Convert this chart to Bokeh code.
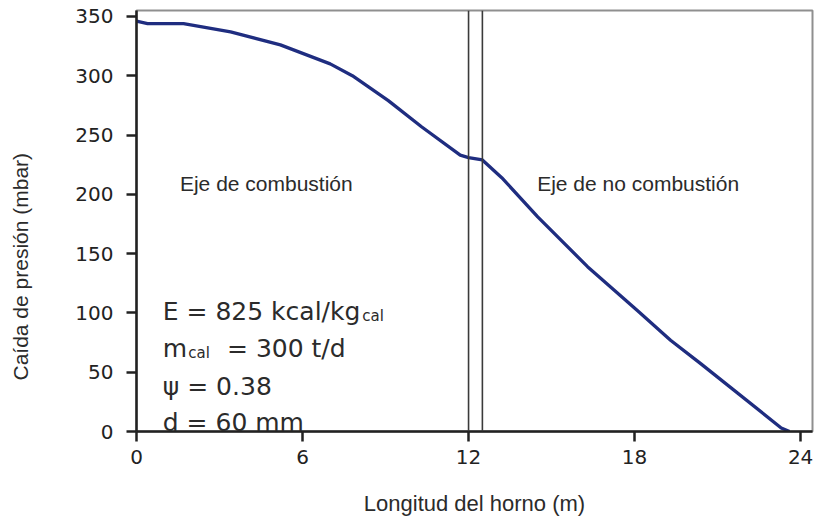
from bokeh.embed import file_html
from bokeh.models import FixedTicker, Label, Range1d, Span, Title
from bokeh.plotting import figure
from bokeh.resources import INLINE

# Pressure drop along the kiln shaft
kiln_length_m = [0.0, 0.4, 1.7, 3.4, 5.2, 7.0, 7.8, 9.1, 10.3, 11.7, 12.0, 12.5,
                 13.2, 14.5, 16.3, 18.1, 19.3, 20.4, 23.3, 23.6]
pressure_drop_mbar = [346, 344, 344, 337, 326, 310, 300, 279, 257, 233, 231, 229,
                      214, 181, 139, 102, 77, 57, 3, 0]

# Boundaries of the gap between the two shafts
shaft_boundaries = [12.0, 12.5]

x_ticks = [0, 6, 12, 18, 24]
y_ticks = [0, 50, 100, 150, 200, 250, 300, 350]

zone_labels = ["Eje de combustión", "Eje de no combustión"]

# Operating parameters
energy_kcal_per_kg = 825
lime_output_t_per_d = 300
psi_value = 0.38
stone_size_mm = 60

TEXT_COLOR = "#2b2b2b"
CURVE_COLOR = "#1f2d80"

p = figure(
    width=815,
    height=522,
    x_range=Range1d(0, 24.43),
    y_range=Range1d(0, 355),
    output_backend="svg",
    toolbar_location=None,
    min_border_left=136,
    min_border_right=3,
    min_border_top=10,
    min_border_bottom=91,
)
p.background_fill_color = "white"
p.border_fill_color = "white"
p.grid.visible = False
p.outline_line_color = "#8f8f8f"
p.outline_line_width = 2

for ax in (p.xaxis[0], p.yaxis[0]):
    ax.axis_line_color = "#222222"
    ax.axis_line_width = 2.5
    ax.major_tick_line_color = "#222222"
    ax.major_tick_line_width = 2.5
    ax.major_tick_in = 0
    ax.major_tick_out = 10
    ax.minor_tick_line_color = None
    ax.major_label_text_font = "DejaVu Sans"
    ax.major_label_text_font_size = "20px"
    ax.major_label_text_color = "#222222"

p.xaxis.ticker = FixedTicker(ticks=x_ticks)
p.yaxis.ticker = FixedTicker(ticks=y_ticks)
p.xaxis.major_label_standoff = 8
p.yaxis.major_label_standoff = 13

p.xaxis.axis_label = "Longitud del horno (m)"
p.xaxis.axis_label_text_font = "Liberation Sans"
p.xaxis.axis_label_text_font_size = "22px"
p.xaxis.axis_label_text_font_style = "normal"
p.xaxis.axis_label_text_color = TEXT_COLOR
p.xaxis.axis_label_standoff = 24

# Empty spacer keeps the vertical title clear of the tick labels
spacer = Title(text=" ", text_font_size="10px", standoff=28)
p.add_layout(spacer, "left")

# Vertical title on the left side, starting a little above the x axis
y_title = Title(
    text="Caída de presión (mbar)", align="left", offset=51, standoff=0,
    text_font="Liberation Sans", text_font_size="21px",
    text_font_style="normal", text_color=TEXT_COLOR,
)
p.add_layout(y_title, "left")

# Shaft boundaries
for loc in shaft_boundaries:
    p.add_layout(Span(location=loc, dimension="height", line_color="#3a3a3a",
                      line_width=1.6))

p.line(kiln_length_m, pressure_drop_mbar, line_color=CURVE_COLOR, line_width=3.3)

# Zone names
for label_text, lx in zip(zone_labels, [1.57, 14.48]):
    p.add_layout(Label(x=lx, y=209, text=label_text, text_align="left",
                       text_baseline="alphabetic", text_font="Liberation Sans",
                       text_font_size="21px", text_color=TEXT_COLOR))

# Parameter block
big = dict(text_font="DejaVu Sans", text_font_size="25px", text_color=TEXT_COLOR,
           text_align="left", text_baseline="alphabetic")
small = dict(text_font="DejaVu Sans", text_font_size="15px", text_color=TEXT_COLOR,
             text_align="left", text_baseline="alphabetic")

p.add_layout(Label(x=0.95, y=101, text=f"E = {energy_kcal_per_kg} kcal/kg", **big))
p.add_layout(Label(x=8.16, y=97, text="cal", **small))
p.add_layout(Label(x=0.95, y=70, text="m", **big))
p.add_layout(Label(x=1.87, y=66, text="cal", **small))
p.add_layout(Label(x=3.27, y=70, text=f"= {lime_output_t_per_d} t/d", **big))
p.add_layout(Label(x=0.95, y=38, text=f"ψ = {psi_value}", **big))
p.add_layout(Label(x=0.95, y=7.6, text=f"d = {stone_size_mm} mm", **big))

open("out.html", "w").write(file_html(p, INLINE))
